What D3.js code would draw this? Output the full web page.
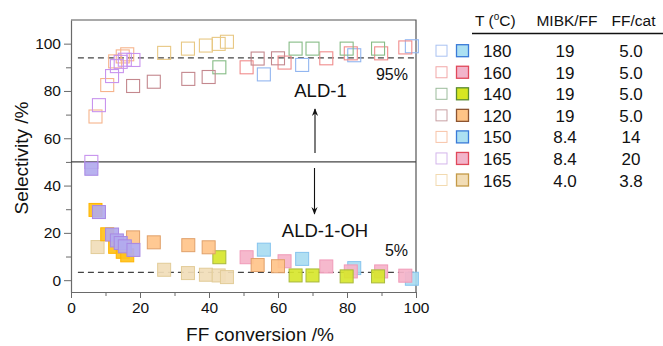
<!DOCTYPE html>
<html>
<head>
<meta charset="utf-8">
<script src="https://cdn.jsdelivr.net/npm/d3@7"></script>
<style>
  html, body { margin: 0; padding: 0; background: #fff; }
  svg { display: block; font-family: "Liberation Sans", Arial, Helvetica, sans-serif; }
</style>
</head>
<body>
<svg id="chart" width="663" height="346"></svg>
<script>
// Reaction conditions (legend table)
const tempC   = ["180", "160", "140", "120", "150", "165", "165"];
const mibkFF  = ["19", "19", "19", "19", "8.4", "8.4", "4.0"];
const ffCat   = ["5.0", "5.0", "5.0", "5.0", "14", "20", "3.8"];

// FF conversion (%) for each run series
const conv180 = [55.9, 67.0, 82.1, 98.8];
const conv160 = [50.9, 61.9, 74.0, 81.1, 89.9, 96.9];
const conv140 = [43.0, 65.1, 70.0, 79.9, 89.0];
const conv120 = [18.0, 24.0, 34.0, 39.9, 54.1, 60.0];
const conv150 = [7.1, 10.5, 12.8, 15.0, 16.3];
const conv165a = [5.9, 8.1, 11.9, 13.3, 14.4, 15.6, 18.1];
const conv165b = [7.7, 27.0, 33.9, 39.1, 42.8, 45.2];

// Selectivity to ALD-1 (%)
const ald180 = [87.0, 91.0, 95.1, 98.9];
const ald160 = [90.0, 92.0, 93.8, 95.9, 95.9, 98.4];
const ald140 = [90.0, 97.9, 97.9, 97.9, 97.9];
const ald120 = [82.1, 83.9, 85.1, 85.9, 93.7, 93.8];
const ald150 = [69.2, 82.5, 92.5, 94.6, 95.5];
const ald165a = [50.0, 74.0, 86.3, 90.5, 92.3, 93.2, 93.1];
const ald165b = [null, 96.1, 97.9, 99.2, 99.9, 100.8];

// Selectivity to ALD-1-OH (%)
const oh180 = [12.9, 9.0, 5.1, 0.6];
const oh160 = [9.7, 8.0, 5.8, 3.7, 3.7, 1.9];
const oh140 = [9.7, 2.0, 2.0, 1.6, 1.6];
const oh120 = [18.1, 16.0, 14.8, 13.9, 6.4, 5.9];
const oh150 = [29.7, 19.4, 14.1, 12.0, 10.5];
const oh165a = [47.1, 28.8, 19.3, 16.8, 15.7, 14.3, 12.8];
const oh165b = [14.0, 4.4, 3.0, 2.3, 2.0, 1.3];

// Reference levels
const refLevels = [94, 3.3];
const splitLevel = 50;

const xTicks = [0, 20, 40, 60, 80, 100];
const xMinor = [10, 30, 50, 70, 90];
const yTicks = [0, 20, 40, 60, 80, 100];
const yMinor = [10, 30, 50, 70, 90];

// Marker styling per series (same order as the legend rows)
const openStroke  = ["#92b6f0", "#f08c8c", "#86bc86", "#c4888e", "#f6b48c", "#c894ee", "#e8c884"];
const plotFill    = ["#a9dcf1", "#f5b3c9", "#d7e62c", "#ffc48a", "#ffc21a", "#b2aaee", "#f1ddb9"];
const plotStroke  = ["#86c4ee", "#f09ab8", "#a8b83c", "#e0a06a", "#ffb400", "#a888e4", "#e2cc98"];
const legOpen     = ["#aac2f2", "#f2a8a8", "#9cbc9c", "#c8a0a4", "#f8c4a8", "#d4b6ec", "#f2dab0"];
const legFill     = ["#ace0f2", "#f2b4ca", "#d6e622", "#ffc486", "#ace0f2", "#f2b4ca", "#f2ddb6"];
const legStroke   = ["#3a7ad8", "#e0485a", "#5a8a30", "#8c5430", "#3a7ad8", "#e0485a", "#c49a48"];

const convs = [conv180, conv160, conv140, conv120, conv150, conv165a, conv165b];
const alds  = [ald180, ald160, ald140, ald120, ald150, ald165a, ald165b];
const ohs   = [oh180, oh160, oh140, oh120, oh150, oh165a, oh165b];

const svg = d3.select("#chart");
const x = d3.scaleLinear().domain([0, 100]).range([71, 416]);
const y = d3.scaleLinear().domain([-5, 110]).range([292, 20]);
const S = 13; // marker side

const axisColor = "#6a6a6a";

// frame (top & right)
svg.append("path")
  .attr("d", `M${x(0)},${y(110)}H${x(100)}V${y(-5)}`)
  .attr("fill", "none").attr("stroke", "#555").attr("stroke-width", 1.2);

// axes
function styleAxis(g) {
  g.selectAll("path.domain").attr("stroke", axisColor).attr("stroke-width", 1.2);
  g.selectAll(".tick line").attr("stroke", axisColor).attr("stroke-width", 1);
  g.selectAll(".tick text").attr("fill", "#111").style("font-size", "15.5px")
    .style("font-family", '"Liberation Sans", Arial, sans-serif');
}
svg.append("g").attr("transform", `translate(${x(0)},0)`)
  .call(d3.axisLeft(y).tickValues(yTicks).tickSize(7).tickSizeOuter(0).tickPadding(3))
  .call(styleAxis);
svg.append("g").attr("transform", `translate(${x(0)},0)`)
  .call(d3.axisLeft(y).tickValues(yMinor).tickSize(5).tickSizeOuter(0).tickFormat(""))
  .call(styleAxis).select("path.domain").remove();
svg.append("g").attr("transform", `translate(0,${y(-5)})`)
  .call(d3.axisBottom(x).tickValues(xTicks).tickSize(6).tickSizeOuter(0).tickPadding(4))
  .call(styleAxis);
svg.append("g").attr("transform", `translate(0,${y(-5)})`)
  .call(d3.axisBottom(x).tickValues(xMinor).tickSize(4).tickSizeOuter(0).tickFormat(""))
  .call(styleAxis).select("path.domain").remove();

// split line and reference dashed lines
svg.append("line").attr("x1", x(0)).attr("x2", x(100))
  .attr("y1", y(splitLevel)).attr("y2", y(splitLevel))
  .attr("stroke", "#444").attr("stroke-width", 1.2);
svg.selectAll("line.ref").data(refLevels).join("line").attr("class", "ref")
  .attr("x1", x(2)).attr("x2", x(100))
  .attr("y1", d => y(d)).attr("y2", d => y(d))
  .attr("stroke", "#444").attr("stroke-width", 1.2).attr("stroke-dasharray", "6,4");

// markers: open squares (ALD-1), filled squares (ALD-1-OH)
const openG = svg.append("g");
convs.forEach((cv, i) => {
  const pts = cv.map((c, j) => ({ c, v: alds[i][j] })).filter(d => d.v != null);
  openG.selectAll(null).data(pts).join("rect")
    .attr("x", d => x(d.c) - S / 2).attr("y", d => y(d.v) - S / 2)
    .attr("width", S).attr("height", S)
    .attr("fill", "none").attr("stroke", openStroke[i]).attr("stroke-width", 1.1);
});
const fillOrder = [0, 1, 2, 3, 6, 4, 5];
const fillG = svg.append("g");
fillOrder.forEach(i => {
  const pts = convs[i].map((c, j) => ({ c, v: ohs[i][j] })).filter(d => d.v != null);
  fillG.selectAll(null).data(pts).join("rect")
    .attr("x", d => x(d.c) - S / 2).attr("y", d => y(d.v) - S / 2)
    .attr("width", S).attr("height", S)
    .attr("fill", plotFill[i]).attr("fill-opacity", 0.92)
    .attr("stroke", plotStroke[i]).attr("stroke-width", 1);
});

// annotations
const ann = svg.append("g").attr("fill", "#111");
ann.append("text").attr("x", 408).attr("y", 80).attr("text-anchor", "end")
  .style("font-size", "16px").text("95%");
ann.append("text").attr("x", 408).attr("y", 256).attr("text-anchor", "end")
  .style("font-size", "16px").text("5%");
ann.append("text").attr("x", 320.5).attr("y", 97).attr("text-anchor", "middle")
  .style("font-size", "18.5px").text("ALD-1");
ann.append("text").attr("x", 325).attr("y", 237).attr("text-anchor", "middle")
  .style("font-size", "18.5px").text("ALD-1-OH");

svg.append("defs").append("marker").attr("id", "ah")
  .attr("viewBox", "0 0 10 10").attr("refX", 9).attr("refY", 5)
  .attr("markerWidth", 7).attr("markerHeight", 8).attr("orient", "auto")
  .append("path").attr("d", "M0,1 L10,5 L0,9 L3,5 Z").attr("fill", "#111");
svg.append("line").attr("x1", 315).attr("x2", 315).attr("y1", 153).attr("y2", 109)
  .attr("stroke", "#111").attr("stroke-width", 1.1).attr("marker-end", "url(#ah)");
svg.append("line").attr("x1", 314.5).attr("x2", 314.5).attr("y1", 168).attr("y2", 214)
  .attr("stroke", "#111").attr("stroke-width", 1.1).attr("marker-end", "url(#ah)");

// axis titles
svg.append("text").attr("transform", "translate(28,158) rotate(-90)")
  .attr("text-anchor", "middle").style("font-size", "19px").attr("fill", "#111")
  .text("Selectivity /%");
svg.append("text").attr("x", 260).attr("y", 341)
  .attr("text-anchor", "middle").style("font-size", "19px").attr("fill", "#111")
  .text("FF conversion /%");

// legend table
const leg = svg.append("g").attr("fill", "#111");
const hdr = leg.append("text").attr("x", 475).attr("y", 26).style("font-size", "15.5px");
hdr.append("tspan").text("T (");
hdr.append("tspan").attr("dy", -6).style("font-size", "10px").text("o");
hdr.append("tspan").attr("dy", 6).text("C)");
leg.append("text").attr("x", 567).attr("y", 26).attr("text-anchor", "middle")
  .style("font-size", "15.5px").text("MIBK/FF");
leg.append("text").attr("x", 633.5).attr("y", 26).attr("text-anchor", "middle")
  .style("font-size", "15.5px").text("FF/cat");
leg.append("line").attr("x1", 472).attr("x2", 663).attr("y1", 33.5).attr("y2", 33.5)
  .attr("stroke", "#111").attr("stroke-width", 1.6);

const rowY = d3.scaleLinear().domain([0, 6]).range([50.7, 180]);
const rows = leg.selectAll("g.row").data(tempC.map((t, i) => i)).join("g")
  .attr("class", "row").attr("transform", i => `translate(0,${rowY(i)})`);
rows.append("rect").attr("x", 436).attr("y", -5.5).attr("width", 11).attr("height", 11)
  .attr("fill", "none").attr("stroke", i => legOpen[i]).attr("stroke-width", 1);
rows.append("rect").attr("x", 456.5).attr("y", -6).attr("width", 12).attr("height", 12)
  .attr("fill", i => legFill[i]).attr("stroke", i => legStroke[i]).attr("stroke-width", 1.3);
rows.append("text").attr("x", 483).attr("y", 6.5).style("font-size", "17px").text(i => tempC[i]);
rows.append("text").attr("x", 565).attr("y", 6.5).attr("text-anchor", "middle")
  .style("font-size", "17px").text(i => mibkFF[i]);
rows.append("text").attr("x", 631).attr("y", 6.5).attr("text-anchor", "middle")
  .style("font-size", "17px").text(i => ffCat[i]);
</script>
</body>
</html>
